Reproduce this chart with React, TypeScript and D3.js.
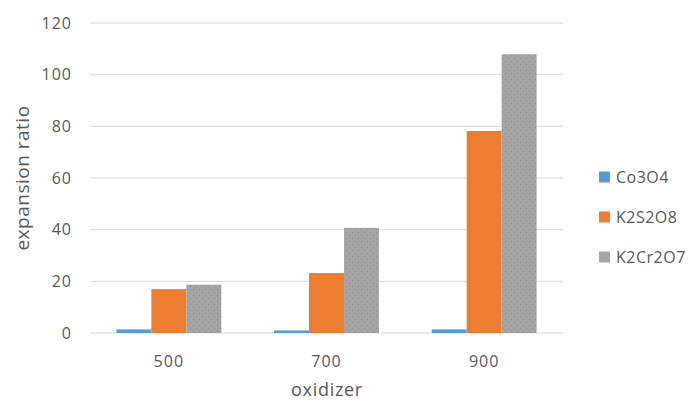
import React from "react";
import * as d3 from "d3";

const categories = ["500", "700", "900"];
const seriesNames = ["Co3O4", "K2S2O8", "K2Cr2O7"];
const co3o4 = [1.4, 1.0, 1.4];
const k2s2o8 = [17.0, 23.2, 78.2];
const k2cr2o7 = [18.7, 40.7, 107.9];
const yTicks = [0, 20, 40, 60, 80, 100, 120];
const colors = ["#5B9BD5", "#ED7D31", "url(#dots)"];
const legendColors = ["#5B9BD5", "#ED7D31", "#A5A5A5"];

const W = 692, H = 403;
const left = 90, right = 563, top = 23, bottom = 333;
const font = "'Open Sans', 'Noto Sans', sans-serif";

export default function App() {
  const series = [co3o4, k2s2o8, k2cr2o7];
  const x = d3.scaleBand().domain(categories).range([left, right]).paddingInner(0.335).paddingOuter(0.1675);
  const xs = d3.scaleBand().domain(seriesNames).range([0, x.bandwidth()]);
  const y = d3.scaleLinear().domain([0, 120]).range([bottom, top]);
  return (
    <svg width={W} height={H} style={{ position: "absolute", left: 0, top: 0 }}>
      <defs>
        <pattern id="dots" width="6" height="6" patternUnits="userSpaceOnUse">
          <rect width="6" height="6" fill="#A5A5A5" />
          <circle cx="1.5" cy="1.5" r="0.7" fill="#8f8f8f" />
          <circle cx="4.5" cy="4.5" r="0.7" fill="#8f8f8f" />
        </pattern>
      </defs>
      <rect width={W} height={H} fill="#fff" />
      {yTicks.map((t) => (
        <g key={t}>
          <line x1={left} x2={right} y1={y(t)} y2={y(t)} stroke="#d9d9d9" strokeWidth={1} />
          <text x={72} y={y(t)} dy="0.36em" textAnchor="end" fontFamily={font} fontSize={16} letterSpacing={1} fill="#595959">{t}</text>
        </g>
      ))}
      {categories.map((c, ci) => (
        <g key={c}>
          {series.map((s, si) => (
            <rect key={si} x={(x(c) as number) + (xs(seriesNames[si]) as number)} width={xs.bandwidth()}
              y={y(s[ci])} height={y(0) - y(s[ci])} fill={colors[si]} />
          ))}
          <text x={(x(c) as number) + x.bandwidth() / 2} y={367} textAnchor="middle" fontFamily={font} fontSize={16} letterSpacing={1} fill="#595959">{c}</text>
        </g>
      ))}
      <text x={327} y={396} textAnchor="middle" fontFamily={font} fontSize={18} letterSpacing={0.7} fill="#595959">oxidizer</text>
      <text transform={`translate(29,178) rotate(-90)`} textAnchor="middle" fontFamily={font} fontSize={19} letterSpacing={0.5} fill="#595959">expansion ratio</text>
      {seriesNames.map((n, i) => (
        <g key={n} transform={`translate(599,${177 + i * 40})`}>
          <rect x={0} y={-5.5} width={11} height={11} fill={legendColors[i]} />
          <text x={17} y={0} dy="0.36em" fontFamily={font} fontSize={16} letterSpacing={0.5} fill="#595959">{n}</text>
        </g>
      ))}
    </svg>
  );
}
